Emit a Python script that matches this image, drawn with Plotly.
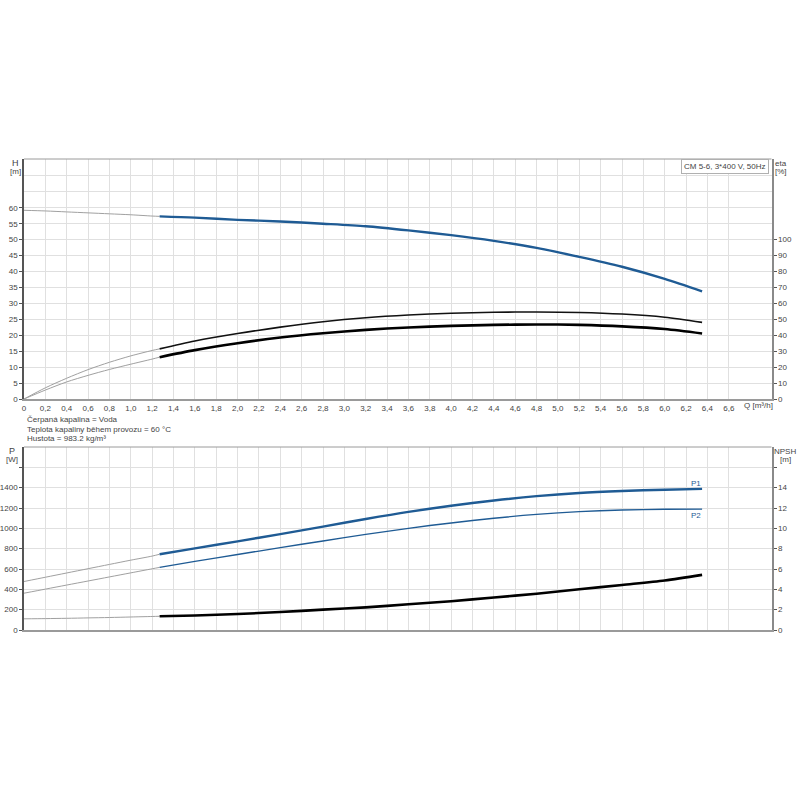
import plotly.graph_objects as go

# ---------------- data ----------------
q_ext = [0.0, 0.2, 0.4, 0.6, 0.8, 1.0, 1.2, 1.27]
q_main = [1.27, 1.6, 2.0, 2.4, 2.8, 3.2, 3.6, 4.0, 4.4, 4.8, 5.2, 5.6, 6.0, 6.35]

h_ext = [59.2, 59.0, 58.7, 58.4, 58.1, 57.8, 57.4, 57.3]
h_main = [57.3, 56.9, 56.2, 55.7, 55.0, 54.2, 52.9, 51.4, 49.6, 47.4, 44.6, 41.5, 37.7, 33.8]

eta1_ext = [0.0, 7.0, 13.0, 18.4, 23.0, 27.0, 30.4, 31.4]
eta1_main = [31.4, 36.3, 41.0, 45.0, 48.4, 50.9, 52.6, 53.7, 54.3, 54.5, 54.2, 53.2, 51.2, 48.0]

eta2_ext = [0.0, 5.6, 10.7, 14.8, 18.5, 21.8, 25.0, 26.2]
eta2_main = [26.2, 30.6, 34.9, 38.5, 41.2, 43.3, 44.8, 45.8, 46.4, 46.7, 46.4, 45.5, 43.8, 41.0]

p1_ext = [477, 519, 561, 603, 645, 687, 727, 745]
p1_main = [745, 803, 872, 943, 1017, 1092, 1162, 1222, 1274, 1317, 1348, 1367, 1380, 1388]

p2_ext = [362, 402, 442, 482, 522, 562, 602, 616]
p2_main = [616, 675, 742, 810, 876, 940, 1000, 1053, 1099, 1137, 1164, 1180, 1187, 1189]

npsh_ext = [1.10, 1.12, 1.15, 1.19, 1.23, 1.28, 1.33, 1.35]
npsh_main = [1.35, 1.43, 1.57, 1.77, 2.0, 2.23, 2.53, 2.83, 3.2, 3.57, 4.0, 4.43, 4.87, 5.42]

q_tickvals = [round(0.2 * i, 1) for i in range(34)]
q_ticktext = [f"{v:.1f}".replace(".", ",") if v != 0 else "0" for v in q_tickvals]
h_ticks = list(range(0, 61, 5))
eta_ticks = list(range(0, 101, 10))
p_ticks = list(range(0, 1601, 200))
p_ticktext = [str(v) if v <= 1400 else "" for v in p_ticks]
npsh_ticks = list(range(0, 17, 2))
npsh_ticktext = [str(v) if v <= 14 else "" for v in npsh_ticks]

# ---------------- style ----------------
BLUE = "#1f5b94"
GRAY = "#a0a0a0"
GRID = "#e0e0e0"
TXT = "#444444"
FONT = "Liberation Sans"
FS = 8

W, H = 800, 800
def px(x):
    return x / W
def py(y):
    return 1 - y / H

fig = go.Figure()

def add(x, y, xa, ya, color, width):
    fig.add_trace(go.Scatter(x=x, y=y, xaxis=xa, yaxis=ya, mode="lines",
                             line=dict(color=color, width=width, shape="spline", smoothing=0.8),
                             showlegend=False, hoverinfo="skip"))

# top
add(q_ext, h_ext, "x", "y", GRAY, 1)
add(q_main, h_main, "x", "y", BLUE, 2.4)
add(q_ext, eta1_ext, "x", "y2", GRAY, 1)
add(q_main, eta1_main, "x", "y2", "#111111", 1.6)
add(q_ext, eta2_ext, "x", "y2", GRAY, 1)
add(q_main, eta2_main, "x", "y2", "#000000", 2.6)
# bottom
add(q_ext, p1_ext, "x2", "y3", GRAY, 1)
add(q_main, p1_main, "x2", "y3", BLUE, 2.4)
add(q_ext, p2_ext, "x2", "y3", GRAY, 1)
add(q_main, p2_main, "x2", "y3", BLUE, 1.4)
add(q_ext, npsh_ext, "x2", "y4", GRAY, 1)
add(q_main, npsh_main, "x2", "y4", "#000000", 2.6)

xdom = [px(24), px(771.5)]
top_dom = [py(399), py(159)]
bot_dom = [py(630), py(447)]

tickfont = dict(family=FONT, size=FS, color=TXT)

xcommon = dict(range=[0, 7.0], showgrid=True, gridcolor=GRID, gridwidth=1,
               showline=True, linecolor="#9a9a9a", linewidth=2, zeroline=False,
               fixedrange=True, automargin=False)

ycommon = dict(tickfont=tickfont, ticks="outside", ticklen=3, tickcolor="#555",
               zeroline=False, automargin=False, fixedrange=True)

fig.update_layout(
    width=W, height=H, margin=dict(l=0, r=0, t=0, b=0, autoexpand=False),
    paper_bgcolor="white", plot_bgcolor="white",
    font=dict(family=FONT, size=FS, color=TXT),
    xaxis=dict(domain=xdom, anchor="y", tickvals=q_tickvals, ticktext=q_ticktext,
               tickfont=tickfont, ticks="", **xcommon),
    xaxis2=dict(domain=xdom, anchor="y3", tickvals=q_tickvals, showticklabels=False,
                ticks="", **xcommon),
    yaxis=dict(domain=top_dom, anchor="x", range=[0, 75.3], tickvals=h_ticks,
               showline=True, linecolor="#555", linewidth=1.5,
               showgrid=True, gridcolor=GRID,
               minor=dict(dtick=5, showgrid=True, gridcolor=GRID, ticks=""), **ycommon),
    yaxis2=dict(domain=top_dom, range=[0, 150.3], overlaying="y", side="right",
                anchor="x", tickvals=eta_ticks,
                showline=True, linecolor="#8a8a8a", linewidth=2,
                showgrid=False, **ycommon),
    yaxis3=dict(domain=bot_dom, anchor="x2", range=[0, 1800], tickvals=p_ticks,
                ticktext=p_ticktext,
                showline=True, linecolor="#555", linewidth=1.5,
                showgrid=True, gridcolor=GRID,
                minor=dict(dtick=200, showgrid=True, gridcolor=GRID, ticks=""), **ycommon),
    yaxis4=dict(domain=bot_dom, range=[0, 18], overlaying="y3", side="right",
                anchor="x2", tickvals=npsh_ticks, ticktext=npsh_ticktext,
                showline=True, linecolor="#8a8a8a", linewidth=2,
                showgrid=False, **ycommon),
)

# top frame lines
for ytop in (159, 447):
    fig.add_shape(type="line", xref="paper", yref="paper", x0=px(24), x1=px(771.5),
                  y0=py(ytop), y1=py(ytop), line=dict(color="#9a9a9a", width=1))

def ann(text, x, y, xanchor="center", yanchor="middle", color=TXT, size=FS, **kw):
    fig.add_annotation(text=text, x=px(x), y=py(y), xref="paper", yref="paper",
                       xanchor=xanchor, yanchor=yanchor, showarrow=False,
                       font=dict(family=FONT, size=size, color=color), **kw)

ann("H", 15, 163, size=9)
ann("[m]", 15, 172)
ann("eta", 781, 163)
ann("[%]", 781, 172)
ann("P", 12, 451, size=9)
ann("[W]", 12, 460)
ann("NPSH", 785, 451)
ann("[m]", 785, 460)
ann("Q [m³/h]", 758, 406)
ann("CM 5-6, 3*400 V, 50Hz", 768.5, 159.5, xanchor="right", yanchor="top",
    bordercolor="#b0b0b0", borderwidth=1, borderpad=2, bgcolor="white")
ann("Čerpaná kapalina = Voda", 25, 419, xanchor="left")
ann("Teplota kapaliny během provozu = 60 °C", 25, 429, xanchor="left")
ann("Hustota = 983.2 kg/m³", 25, 439, xanchor="left")
ann("P1", 696, 483, color=BLUE)
ann("P2", 696, 515, color=BLUE)

fig.write_html(
    "out.html",
    config={"displayModeBar": False},
    post_script="document.body.style.margin='0';document.body.style.overflow='hidden';",
)
